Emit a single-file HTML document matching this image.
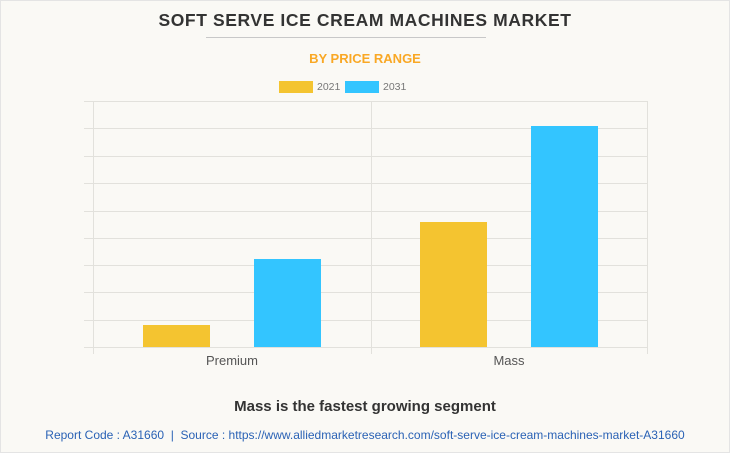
<!DOCTYPE html>
<html><head><style>
body{margin:0;width:730px;height:453px;background:#faf9f5;font-family:"Liberation Sans",sans-serif;position:relative;overflow:hidden}
.a{position:absolute}
</style></head><body>
<div class="a" style="left:0;top:0;width:728px;height:451px;border:1px solid #e4e4e4"></div>
<div class="a" style="left:0;top:10px;width:730px;text-align:center;font-weight:bold;font-size:17.5px;color:#333;letter-spacing:0.6px">SOFT SERVE ICE CREAM MACHINES MARKET</div>
<div class="a" style="left:206px;top:37px;width:280px;height:1px;background:#c8c8c8"></div>
<div class="a" style="left:0;top:51px;width:730px;text-align:center;font-weight:bold;font-size:13px;color:#f9a825">BY PRICE RANGE</div>
<div class="a" style="left:279px;top:81px;width:34px;height:12px;background:#f4c430"></div>
<div class="a" style="left:317px;top:81px;font-size:10.5px;color:#777">2021</div>
<div class="a" style="left:345px;top:81px;width:34px;height:12px;background:#33c5ff"></div>
<div class="a" style="left:383px;top:81px;font-size:10.5px;color:#777">2031</div>
<svg class="a" style="left:0;top:0" width="730" height="453">
<g stroke="#e2e1dc" stroke-width="1">
<line x1="84" x2="647" y1="101.5" y2="101.5"/><line x1="84" x2="647" y1="128.5" y2="128.5"/>
<line x1="84" x2="647" y1="156.5" y2="156.5"/><line x1="84" x2="647" y1="183.5" y2="183.5"/>
<line x1="84" x2="647" y1="211.5" y2="211.5"/><line x1="84" x2="647" y1="238.5" y2="238.5"/>
<line x1="84" x2="647" y1="265.5" y2="265.5"/><line x1="84" x2="647" y1="292.5" y2="292.5"/>
<line x1="84" x2="647" y1="320.5" y2="320.5"/><line x1="84" x2="647" y1="347.5" y2="347.5"/>
<line x1="93.5" x2="93.5" y1="101" y2="354"/><line x1="371.5" x2="371.5" y1="101" y2="354"/>
<line x1="647.5" x2="647.5" y1="101" y2="354"/>
</g>
<rect x="143" y="325" width="67" height="22" fill="#f4c430"/>
<rect x="254" y="259" width="67" height="88" fill="#33c5ff"/>
<rect x="420" y="222" width="67" height="125" fill="#f4c430"/>
<rect x="531" y="126" width="67" height="221" fill="#33c5ff"/>
<text x="232" y="365" font-size="13" fill="#555" text-anchor="middle" font-family="Liberation Sans">Premium</text>
<text x="509" y="365" font-size="13" fill="#555" text-anchor="middle" font-family="Liberation Sans">Mass</text>
</svg>
<div class="a" style="left:0;top:398px;width:730px;text-align:center;font-weight:bold;font-size:15px;color:#333">Mass is the fastest growing segment</div>
<div class="a" style="left:0;top:428px;width:730px;text-align:center;font-size:12px;color:#2a62b5">Report Code : A31660 &nbsp;|&nbsp; Source : https://www.alliedmarketresearch.com/soft-serve-ice-cream-machines-market-A31660</div>
</body></html>
